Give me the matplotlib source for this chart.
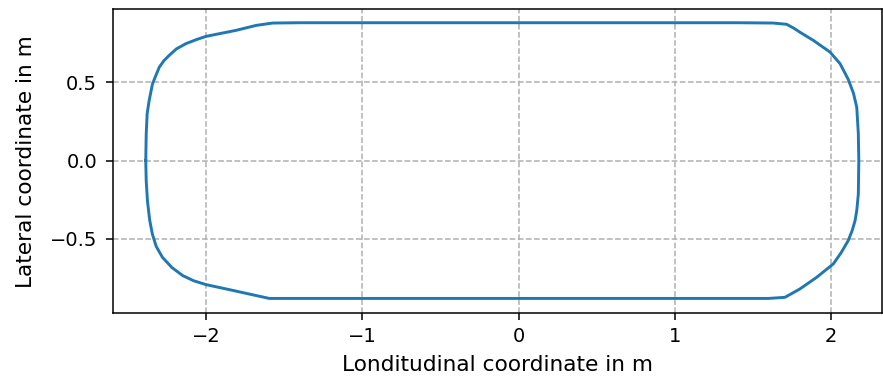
import matplotlib
matplotlib.use("Agg")
import matplotlib.pyplot as plt
import numpy as np

# Contour of the footprint (longitudinal x, lateral y), clockwise from left middle
contour_x = [-2.387, -2.384, -2.378, -2.365, -2.344, -2.320, -2.300, -2.270, -2.237, -2.190, -2.130,
             -2.060, -2.000, -1.900, -1.810, -1.680, -1.575, -1.400, 1.400, 1.630,
             1.716, 1.760, 1.800, 1.887, 1.994, 2.058, 2.110, 2.144, 2.165, 2.175, 2.178,
             2.175, 2.165, 2.154, 2.135, 2.110, 2.065, 2.015, 1.908, 1.800, 1.705,
             1.600, -1.400, -1.596, -1.724, -1.860, -2.000, -2.080, -2.150, -2.220, -2.280,
             -2.320, -2.345, -2.362, -2.376, -2.384, -2.387]
contour_y = [0.000, 0.170, 0.300, 0.385, 0.490, 0.550, 0.598, 0.640, 0.673, 0.715, 0.748,
             0.775, 0.795, 0.815, 0.833, 0.865, 0.880, 0.882, 0.882, 0.880,
             0.872, 0.848, 0.822, 0.769, 0.694, 0.620, 0.520, 0.430, 0.340, 0.170, 0.000,
             -0.214, -0.320, -0.385, -0.450, -0.513, -0.590, -0.662, -0.748, -0.823, -0.876,
             -0.883, -0.883, -0.883, -0.855, -0.825, -0.795, -0.770, -0.737, -0.685, -0.620,
             -0.550, -0.470, -0.380, -0.260, -0.130, 0.000]

x_ticks = [-2, -1, 0, 1, 2]
y_ticks = [-0.5, 0.0, 0.5]

fig = plt.figure(figsize=(8.83, 3.81), dpi=100)
W, H = 883, 381
left, right, top, bottom = 113.3, 882.5, 9.3, 313.3
ax = fig.add_axes([left / W, 1 - bottom / H, (right - left) / W, (bottom - top) / H])

ax.plot(contour_x, contour_y, color="#1f77b4", linewidth=2.1)

x0, sx = 518.6, 156.2
y0, sy = 160.5, 156.2
ax.set_xlim((left - x0) / sx, (right - x0) / sx)
ax.set_ylim((y0 - bottom) / sy, (y0 - top) / sy)
ax.set_xticks(x_ticks)
ax.set_yticks(y_ticks)
ax.tick_params(axis="both", labelsize=14, length=5.2, width=1.1)
ax.tick_params(axis="x", pad=4.9)
ax.tick_params(axis="y", pad=6.5)
for s in ax.spines.values():
    s.set_linewidth(1.1)
ax.grid(True, linestyle="--", color="#b0b0b0", linewidth=1.1)
ax.set_xlabel("Londitudinal coordinate in m", fontsize=15.6, labelpad=6)
ax.set_ylabel("Lateral coordinate in m", fontsize=15.6, labelpad=10)

fig.savefig("out.png", dpi=100)
